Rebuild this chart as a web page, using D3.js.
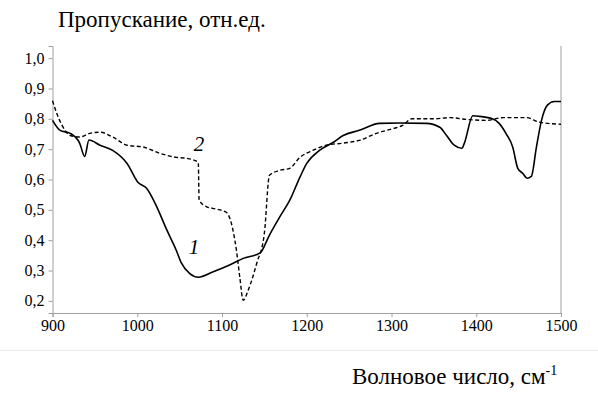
<!DOCTYPE html>
<html>
<head>
<meta charset="utf-8">
<script src="https://cdn.jsdelivr.net/npm/d3@7"></script>
<style>
  body { margin: 0; background: #fff; }
  svg text { font-family: "Liberation Serif", "DejaVu Serif", "Times New Roman", serif; fill: #000; }
</style>
</head>
<body>
<div id="chart"></div>
<script>
// wavenumber, cm-1 and transmittance for curve 1 (solid)
const wave1 = [900, 909, 921, 932, 938, 943, 956, 971, 988, 1001, 1011, 1023, 1035, 1046, 1052, 1062, 1072, 1089, 1109, 1125, 1145, 1156, 1168, 1180, 1192, 1200, 1215, 1231, 1243, 1262, 1286, 1309, 1341, 1357, 1365, 1374, 1383, 1386, 1396, 1404, 1419, 1427, 1435, 1443, 1449, 1455, 1460, 1465, 1471, 1477, 1484, 1492, 1500];
const trans1 = [0.795, 0.762, 0.752, 0.72, 0.676, 0.73, 0.713, 0.696, 0.653, 0.59, 0.571, 0.51, 0.433, 0.367, 0.325, 0.29, 0.278, 0.295, 0.318, 0.34, 0.358, 0.417, 0.476, 0.532, 0.608, 0.653, 0.696, 0.722, 0.745, 0.762, 0.785, 0.786, 0.785, 0.772, 0.745, 0.713, 0.703, 0.72, 0.81, 0.808, 0.80, 0.785, 0.752, 0.707, 0.637, 0.62, 0.604, 0.61, 0.707, 0.795, 0.845, 0.857, 0.857];

// curve 2 (dashed)
const wave2 = [900, 905, 911, 921, 932, 944, 956, 971, 988, 1007, 1027, 1046, 1058, 1072, 1073, 1082, 1089, 1105, 1111, 1117, 1121, 1125, 1131, 1141, 1150, 1156, 1168, 1180, 1192, 1207, 1223, 1243, 1262, 1282, 1302, 1313, 1324, 1349, 1369, 1388, 1412, 1432, 1459, 1474, 1500];
const trans2 = [0.86, 0.818, 0.78, 0.745, 0.74, 0.752, 0.756, 0.74, 0.713, 0.707, 0.686, 0.673, 0.67, 0.657, 0.532, 0.51, 0.505, 0.492, 0.456, 0.367, 0.278, 0.202, 0.236, 0.324, 0.423, 0.614, 0.63, 0.637, 0.673, 0.696, 0.713, 0.72, 0.729, 0.752, 0.768, 0.778, 0.80, 0.80, 0.804, 0.798, 0.795, 0.804, 0.804, 0.789, 0.782];

const xTicks = [900, 1000, 1100, 1200, 1300, 1400, 1500];
const yTicks = [0.2, 0.3, 0.4, 0.5, 0.6, 0.7, 0.8, 0.9, 1.0];

const W = 598, H = 399;
const margin = {top: 46, right: 37, bottom: 86, left: 52.5};
const serif = "'Liberation Serif', 'DejaVu Serif', 'Times New Roman', serif";

const svg = d3.select("#chart").append("svg")
    .attr("width", W)
    .attr("height", H);

const x = d3.scaleLinear().domain([900, 1500]).range([margin.left, W - margin.right]);
const y = d3.scaleLinear().domain([0.16, 1.04]).range([H - margin.bottom, margin.top]);

const fmt = d => d3.format(".1f")(d).replace(".", ",");

// x axis
const xAxis = svg.append("g")
    .attr("transform", `translate(0,${H - margin.bottom})`)
    .call(d3.axisBottom(x).tickValues(xTicks).tickSize(4).tickPadding(3).tickFormat(d3.format("d")));
xAxis.attr("font-family", serif).attr("font-size", 16);
xAxis.select(".domain").attr("stroke", "#a0a0a0");
xAxis.selectAll(".tick line").attr("stroke", "#a0a0a0");
xAxis.selectAll("text").style("font-family", serif).style("font-size", "16px").attr("fill", "#000");

// y axis
const yAxis = svg.append("g")
    .attr("transform", `translate(${margin.left},0)`)
    .call(d3.axisLeft(y).tickValues(yTicks).tickSize(4).tickPadding(4).tickFormat(fmt));
yAxis.attr("font-family", serif).attr("font-size", 16);
yAxis.select(".domain").attr("stroke", "#a0a0a0");
yAxis.selectAll(".tick line").attr("stroke", "#a0a0a0");
yAxis.selectAll("text").style("font-family", serif).style("font-size", "16px").attr("fill", "#000");

// right border
svg.append("line")
    .attr("x1", x(1500)).attr("x2", x(1500))
    .attr("y1", y(1.04)).attr("y2", y(0.16))
    .attr("stroke", "#a0a0a0");

// faint separator line
svg.append("line")
    .attr("x1", 0).attr("x2", W)
    .attr("y1", 350.5).attr("y2", 350.5)
    .attr("stroke", "#ebebeb");

const line = d3.line()
    .curve(d3.curveMonotoneX)
    .x(d => x(d[0]))
    .y(d => y(d[1]));

svg.append("path")
    .datum(wave2.map((w, i) => [w, trans2[i]]))
    .attr("d", line)
    .attr("fill", "none")
    .attr("stroke", "#000")
    .attr("stroke-width", 1.4)
    .attr("stroke-dasharray", "4,2.5");

svg.append("path")
    .datum(wave1.map((w, i) => [w, trans1[i]]))
    .attr("d", line)
    .attr("fill", "none")
    .attr("stroke", "#000")
    .attr("stroke-width", 1.6);

// curve labels
svg.append("text")
    .attr("x", 199).attr("y", 151)
    .attr("text-anchor", "middle")
    .style("font-size", "21px")
    .style("font-style", "italic")
    .text("2");

svg.append("text")
    .attr("x", 194).attr("y", 254)
    .attr("text-anchor", "middle")
    .style("font-size", "21px")
    .style("font-style", "italic")
    .text("1");

// titles
svg.append("text")
    .attr("x", 58).attr("y", 27)
    .style("font-size", "23px")
    .text("Пропускание, отн.ед.");

const xt = svg.append("text")
    .attr("x", 352).attr("y", 384)
    .style("font-size", "23px");
xt.append("tspan").text("Волновое число, см");
xt.append("tspan").attr("dy", -9).style("font-size", "14px").text("-1");
</script>
</body>
</html>
